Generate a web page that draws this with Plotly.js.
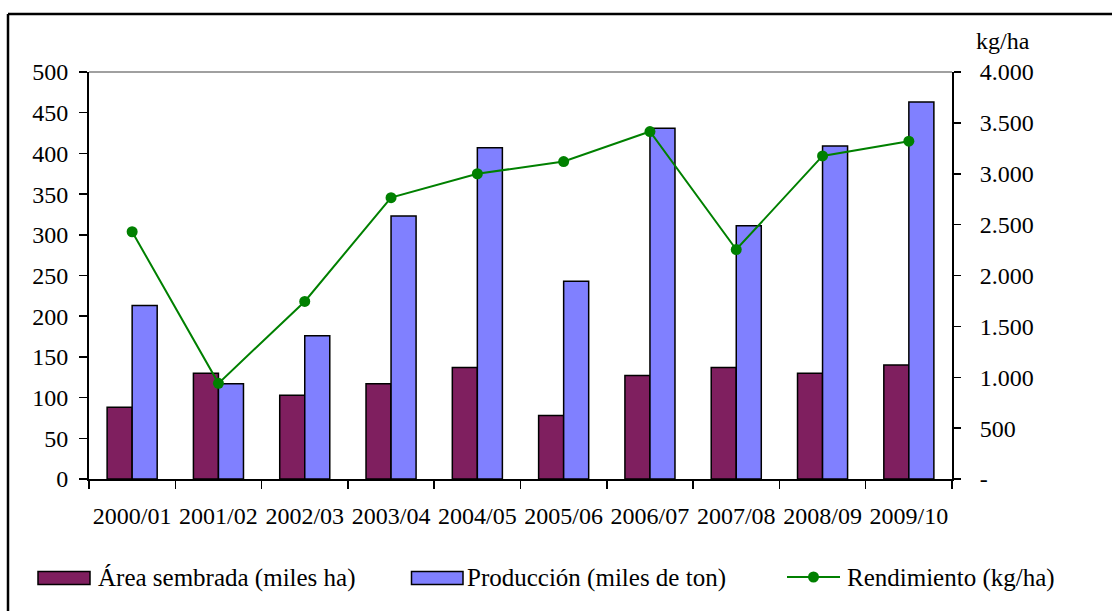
<!DOCTYPE html>
<html>
<head>
<meta charset="utf-8">
<script src="https://cdn.plot.ly/plotly-3.0.1.min.js"></script>
<style>
  html, body { margin: 0; padding: 0; background: #ffffff; }
  #chart { width: 1112px; height: 611px; }
</style>
</head>
<body>
<div id="chart"></div>
<script>
// Campaigns (zafras)
const campaigns = ["2000/01", "2001/02", "2002/03", "2003/04", "2004/05",
                   "2005/06", "2006/07", "2007/08", "2008/09", "2009/10"];

// Área sembrada (miles ha)
const areaSembrada = [88, 130, 103, 117, 137, 78, 127, 137, 130, 140];

// Producción (miles de ton)
const produccion = [213, 117, 176, 323, 407, 243, 431, 311, 409, 463];

// Rendimiento (kg/ha)
const rendimiento = [2430, 940, 1745, 2765, 3000, 3120, 3415, 2255, 3175, 3320];

// Axis ticks
const leftTicks = [0, 50, 100, 150, 200, 250, 300, 350, 400, 450, 500];
const rightTicks = [0, 500, 1000, 1500, 2000, 2500, 3000, 3500, 4000];
const rightTickText = ["-", "500", "1.000", "1.500", "2.000", "2.500", "3.000", "3.500", "4.000"];

// Legend labels
const legendLabels = ["Área sembrada (miles ha)", "Producción (miles de ton)", "Rendimiento (kg/ha)"];

const colArea = "#7F1F5F";
const colProd = "#8080FF";
const colLine = "#008000";
const FONT = "Liberation Serif";
const FS = 24;
const FS_LEG = 25;

// Plot box in pixels (page coordinates)
const W = 1112, H = 611;
const M = { l: 89, r: 160, t: 72, b: 132 };
const PW = W - M.l - M.r, PH = H - M.t - M.b;
const px = x => (x - M.l) / PW;          // page x -> paper x
const py = y => (H - M.b - y) / PH;      // page y -> paper y

// Category boundaries for the crossing tick marks
const xRange = [-0.5, campaigns.length - 0.5];
const boundaries = [];
for (let i = 0; i <= campaigns.length; i++) boundaries.push(i - 0.5);

const traces = [
  {
    type: "bar", name: legendLabels[0], x: campaigns, y: areaSembrada,
    marker: { color: colArea, line: { color: "#000000", width: 1.5 } },
    xaxis: "x", yaxis: "y"
  },
  {
    type: "bar", name: legendLabels[1], x: campaigns, y: produccion,
    marker: { color: colProd, line: { color: "#000000", width: 1.5 } },
    xaxis: "x", yaxis: "y"
  },
  {
    type: "scatter", mode: "lines+markers", name: legendLabels[2],
    x: campaigns, y: rendimiento,
    line: { color: colLine, width: 2 },
    marker: { color: colLine, size: 11 },
    xaxis: "x", yaxis: "y2", cliponaxis: false
  }
];

const tickFont = { family: FONT, size: FS, color: "#000000" };
const legFont = { family: FONT, size: FS_LEG, color: "#000000" };

// Custom legend drawn as shapes + annotations
const legendY = 578;
const shapes = [
  // top edge of plot area
  { type: "line", xref: "paper", yref: "paper", x0: 0, x1: 1, y0: 1, y1: 1,
    line: { color: "#808080", width: 1.5 } },
  // outer frame
  { type: "line", xref: "paper", yref: "paper", x0: px(8), x1: px(8), y0: py(14), y1: py(H + 5),
    line: { color: "#000000", width: 2.5 } },
  { type: "line", xref: "paper", yref: "paper", x0: px(8), x1: px(W + 5), y0: py(14), y1: py(14),
    line: { color: "#000000", width: 2.5 } },
  // legend symbols
  { type: "rect", xref: "paper", yref: "paper", x0: px(38), x1: px(90), y0: py(legendY - 6.5), y1: py(legendY + 6.5),
    fillcolor: colArea, line: { color: "#000000", width: 1.5 } },
  { type: "rect", xref: "paper", yref: "paper", x0: px(411.5), x1: px(463), y0: py(legendY - 6.5), y1: py(legendY + 6.5),
    fillcolor: colProd, line: { color: "#000000", width: 1.5 } },
  { type: "line", xref: "paper", yref: "paper", x0: px(787), x1: px(840), y0: py(legendY - 1), y1: py(legendY - 1),
    line: { color: colLine, width: 2 } },
  { type: "circle", xref: "paper", yref: "paper", x0: px(808), x1: px(819), y0: py(legendY - 6.5), y1: py(legendY + 4.5),
    fillcolor: colLine, line: { color: colLine, width: 0 } }
];

const annotations = [
  { xref: "paper", yref: "paper", x: px(96), y: py(legendY), xanchor: "left", yanchor: "middle",
    text: legendLabels[0], showarrow: false, font: legFont },
  { xref: "paper", yref: "paper", x: px(465), y: py(legendY), xanchor: "left", yanchor: "middle",
    text: legendLabels[1], showarrow: false, font: legFont },
  { xref: "paper", yref: "paper", x: px(845), y: py(legendY), xanchor: "left", yanchor: "middle",
    text: legendLabels[2], showarrow: false, font: legFont },
  { xref: "paper", yref: "paper", x: px(974), y: py(41), xanchor: "left", yanchor: "middle",
    text: "kg/ha", showarrow: false, font: tickFont }
];

const layout = {
  width: W, height: H,
  margin: { l: M.l, r: M.r, t: M.t, b: M.b, pad: 0 },
  paper_bgcolor: "#ffffff", plot_bgcolor: "#ffffff",
  showlegend: false,
  barmode: "group", bargap: 0.42, bargroupgap: 0,
  font: { family: FONT, size: FS, color: "#000000" },
  xaxis: {
    type: "category", tickson: "boundaries", range: xRange, autorange: false,
    ticks: "outside", ticklen: 8, tickwidth: 1.5, tickcolor: "#000000",
    showline: true, linewidth: 2, linecolor: "#000000",
    showgrid: false, zeroline: false, tickfont: tickFont, tickangle: 0,
    ticklabelstandoff: 14, fixedrange: true
  },
  xaxis2: {
    overlaying: "x", anchor: "y", side: "bottom", type: "linear",
    range: xRange, autorange: false, tickmode: "array", tickvals: boundaries,
    ticks: "inside", ticklen: 7, tickwidth: 1.5, tickcolor: "#000000",
    showticklabels: false, showline: false, showgrid: false, zeroline: false
  },
  yaxis: {
    range: [0, 500], autorange: false, tickmode: "array", tickvals: leftTicks,
    ticks: "outside", ticklen: 8, tickwidth: 1.5, tickcolor: "#000000",
    showline: true, linewidth: 2, linecolor: "#000000",
    showgrid: false, zeroline: false, tickfont: tickFont,
    ticklabelstandoff: 6, fixedrange: true
  },
  yaxis3: {
    overlaying: "y", anchor: "x", side: "left",
    range: [0, 500], autorange: false, tickmode: "array", tickvals: leftTicks,
    ticks: "inside", ticklen: 7, tickwidth: 1.5, tickcolor: "#000000",
    showticklabels: false, showline: false, showgrid: false, zeroline: false
  },
  yaxis2: {
    overlaying: "y", anchor: "x", side: "right",
    range: [0, 4000], autorange: false, tickmode: "array", tickvals: rightTicks, ticktext: rightTickText,
    ticks: "outside", ticklen: 7, tickwidth: 1.5, tickcolor: "#000000",
    showline: true, linewidth: 2, linecolor: "#000000",
    showgrid: false, zeroline: false, tickfont: tickFont,
    ticklabelstandoff: 14, fixedrange: true
  },
  yaxis4: {
    overlaying: "y", anchor: "x", side: "right",
    range: [0, 4000], autorange: false, tickmode: "array", tickvals: rightTicks,
    ticks: "inside", ticklen: 7, tickwidth: 1.5, tickcolor: "#000000",
    showticklabels: false, showline: false, showgrid: false, zeroline: false
  },
  shapes: shapes,
  annotations: annotations
};

Plotly.newPlot("chart", traces, layout, { staticPlot: true, displayModeBar: false });
</script>
</body>
</html>
